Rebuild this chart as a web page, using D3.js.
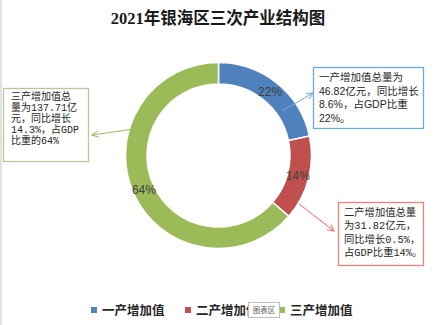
<!DOCTYPE html>
<html><head><meta charset="utf-8">
<script src="https://cdn.jsdelivr.net/npm/d3@7"></script>
<style>
html,body{margin:0;padding:0;background:#fff;}
svg{display:block;}
</style></head>
<body>
<svg id="chart" width="435" height="325"></svg>
<script>
const title = "2021年银海区三次产业结构图";
const categories = ["一产增加值", "二产增加值", "三产增加值"];
const values = [46.82, 31.82, 137.71];
const percentLabels = ["22%", "14%", "64%"];
const colors = ["#4F81BD", "#C0504D", "#9BBB59"];
const calloutLines = [
  ["一产增加值总量为", "46.82亿元，同比增长", "8.6%，占GDP比重", "22%。"],
  ["二产增加值总量", "为31.82亿元，", "同比增长0.5%，", "占GDP比重14%。"],
  ["三产增加值总", "量为137.71亿", "元，同比增长", "14.3%，占GDP", "比重的64%"]
];

const svg = d3.select("#chart");
svg.append("rect").attr("x",0).attr("y",0).attr("width",435).attr("height",325).attr("fill","#fff");
svg.append("line").attr("x1",1).attr("x2",1).attr("y1",0).attr("y2",325).attr("stroke","#d9d9d9").attr("stroke-width",1.5);

svg.append("text").attr("x",218).attr("y",24).attr("text-anchor","middle")
  .attr("font-family","'Liberation Serif','Noto Sans CJK SC',serif").attr("font-weight","bold")
  .attr("font-size",16.5).attr("fill","#1a1a1a").text(title);

const cx = 218.5, cy = 155.5, rOuter = 93, rInner = 71.5;
const g = svg.append("g").attr("transform", `translate(${cx},${cy})`);
const pie = d3.pie().sort(null).value(d => d)(values);
const arc = d3.arc().innerRadius(rInner).outerRadius(rOuter);
g.selectAll("path").data(pie).join("path")
  .attr("d", arc).attr("fill", (d,i) => colors[i])
  .attr("stroke","#fff").attr("stroke-width",1.5);

const labelArc = d3.arc().innerRadius(82).outerRadius(82);
g.selectAll("text.pct").data(pie).join("text").attr("class","pct")
  .attr("transform", d => `translate(${labelArc.centroid(d)})`)
  .attr("text-anchor","middle").attr("dy","0.36em")
  .attr("font-family","'Liberation Sans',Arial,sans-serif").attr("font-size",12)
  .attr("fill","#404040").text((d,i) => percentLabels[i]);

// callout boxes (layout)
const boxes = [
  {x:313, y:67, w:110, h:61, tx:319, ty:81, lh:13.6, fs:10.5, font:"'Liberation Sans','Noto Sans CJK SC',sans-serif", border:"#6FA8DC", arrow:"#6FA8DC",
   from:{a:55, r:77.5}, to:[313,93]},
  {x:338, y:202, w:85, h:63, tx:344, ty:216, lh:13.3, fs:10.3, font:"'Liberation Mono','Noto Sans CJK SC',monospace", border:"#F08080", arrow:"#F06060",
   from:{a:121, r:94}, to:[334,231]},
  {x:3, y:88, w:85, h:73, tx:11, ty:100, lh:10.9, fs:10, font:"'Liberation Mono','Noto Sans CJK SC',monospace", border:"#B8C89A", arrow:"#9BBB59",
   from:{a:288, r:86.7}, to:[92,135]}
];

const defs = svg.append("defs");
boxes.forEach((b,i) => {
  defs.append("marker").attr("id","arr"+i).attr("viewBox","0 0 10 10")
    .attr("refX",9).attr("refY",5).attr("markerWidth",8).attr("markerHeight",8)
    .attr("markerUnits","userSpaceOnUse").attr("orient","auto")
    .append("path").attr("d","M1,1 L9,5 L1,9").attr("fill","none")
    .attr("stroke", b.arrow).attr("stroke-width",1.2);
});

boxes.forEach((b,i) => {
  svg.append("rect").attr("x",b.x+0.5).attr("y",b.y+0.5).attr("width",b.w).attr("height",b.h)
    .attr("fill","#fff").attr("stroke",b.border).attr("stroke-width",1.3);
  const t = svg.append("text").attr("font-family",b.font).attr("font-size",b.fs).attr("fill","#262626");
  calloutLines[i].forEach((line,k) => {
    t.append("tspan").attr("x",b.tx).attr("y",b.ty + k*b.lh).text(line);
  });
  const ang = b.from.a * Math.PI/180;
  const sx = cx + b.from.r*Math.sin(ang), sy = cy - b.from.r*Math.cos(ang);
  svg.append("line").attr("x1",sx).attr("y1",sy).attr("x2",b.to[0]).attr("y2",b.to[1])
    .attr("stroke",b.arrow).attr("stroke-width",1).attr("marker-end",`url(#arr${i})`);
});

// legend
const legendX = [91, 185, 279];
const lg = svg.append("g");
categories.forEach((c,i) => {
  lg.append("rect").attr("x",legendX[i]).attr("y",307).attr("width",6).attr("height",6).attr("fill",colors[i]);
  lg.append("text").attr("x",legendX[i]+11).attr("y",310).attr("dy","0.36em")
    .attr("font-family","'Noto Sans CJK SC',serif").attr("font-weight","bold")
    .attr("font-size",12.5).attr("fill","#262626").text(c);
});
// tooltip overlay "图表区"
svg.append("rect").attr("x",248.5).attr("y",302.5).attr("width",31).attr("height",15)
  .attr("fill","#fff").attr("stroke","#bfbfbf").attr("stroke-width",1);
svg.append("text").attr("x",264).attr("y",310).attr("dy","0.36em").attr("text-anchor","middle")
  .attr("font-family","'Noto Sans CJK SC',sans-serif").attr("font-size",7.5).attr("fill","#595959").text("图表区");
</script>
</body></html>
